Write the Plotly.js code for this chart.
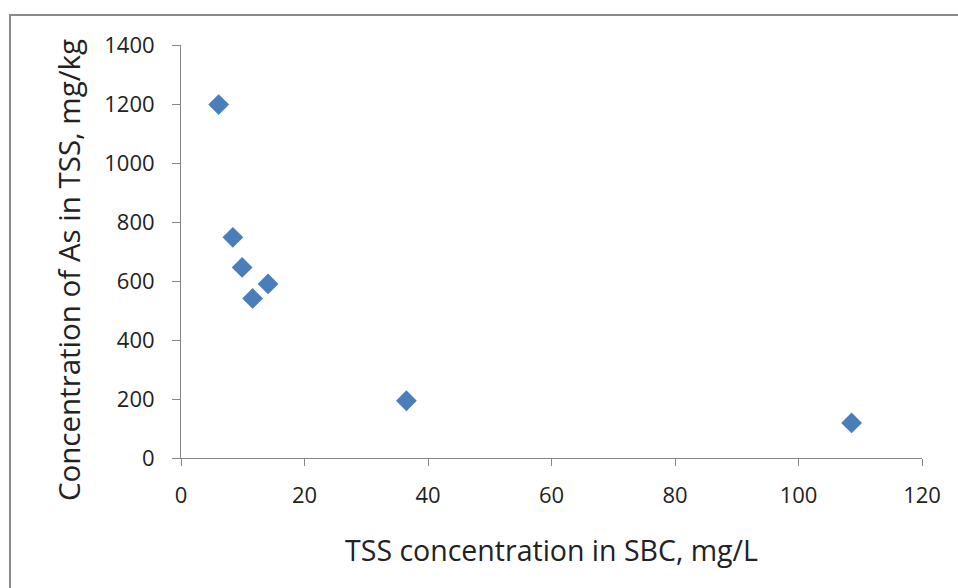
<!DOCTYPE html>
<html>
<head>
<meta charset="utf-8">
<script src="https://cdn.plot.ly/plotly-3.0.1.min.js"></script>
<style>html,body{margin:0;padding:0;background:#fff;}#chart{width:958px;height:588px;}</style>
</head>
<body>
<div id="chart"></div>
<script>
const tssConcentration = [6.1, 8.4, 9.9, 11.6, 14.1, 36.5, 108.6];
const asConcentration = [1198, 748, 646, 541, 590, 194, 119];
const xTickValues = [0, 20, 40, 60, 80, 100, 120];
const yTickValues = [0, 200, 400, 600, 800, 1000, 1200, 1400];
const xTitle = 'TSS concentration in SBC, mg/L';
const yTitle = 'Concentration of As in TSS, mg/kg';

const font = "Open Sans, sans-serif";
const trace = {
  x: tssConcentration,
  y: asConcentration,
  type: 'scatter',
  mode: 'markers',
  marker: {symbol: 'diamond', size: 16, color: '#4a7ebb', line: {width: 0}},
  hoverinfo: 'x+y'
};
const layout = {
  width: 958, height: 588,
  margin: {l: 181, r: 36, t: 45, b: 130},
  paper_bgcolor: '#ffffff', plot_bgcolor: '#ffffff',
  showlegend: false,
  font: {family: font, color: '#222222', size: 22},
  xaxis: {
    range: [0, 120], tickvals: xTickValues, ticktext: xTickValues.map(String),
    showgrid: false, zeroline: false, showline: true, linecolor: '#868686', linewidth: 1,
    ticks: 'outside', ticklen: 7, tickcolor: '#868686', ticklabelstandoff: 11,
    tickfont: {family: font, size: 22, color: '#222222'},
    title: {text: xTitle, font: {family: font, size: 28.5, color: '#222222'}, standoff: 32}
  },
  yaxis: {
    range: [0, 1400], tickvals: yTickValues, ticktext: yTickValues.map(String),
    showgrid: false, zeroline: false, showline: true, linecolor: '#868686', linewidth: 1,
    ticks: 'outside', ticklen: 8, tickcolor: '#868686', ticklabelstandoff: 13,
    tickfont: {family: font, size: 22, color: '#222222'}
  },
  annotations: [{
    text: yTitle, xref: 'paper', yref: 'paper', x: -0.1525, y: 0.455,
    xanchor: 'center', yanchor: 'middle', textangle: -90, showarrow: false,
    font: {family: font, size: 29.5, color: '#222222'}
  }],
  shapes: [{
    type: 'rect', xref: 'paper', yref: 'paper', layer: 'below',
    x0: -0.2308, x1: 1.2, y0: -0.5, y1: 1.0726,
    line: {color: '#8a8a8a', width: 2}, fillcolor: 'rgba(0,0,0,0)'
  }]
};
Plotly.newPlot('chart', [trace], layout, {displayModeBar: false, staticPlot: true});
</script>
</body>
</html>
